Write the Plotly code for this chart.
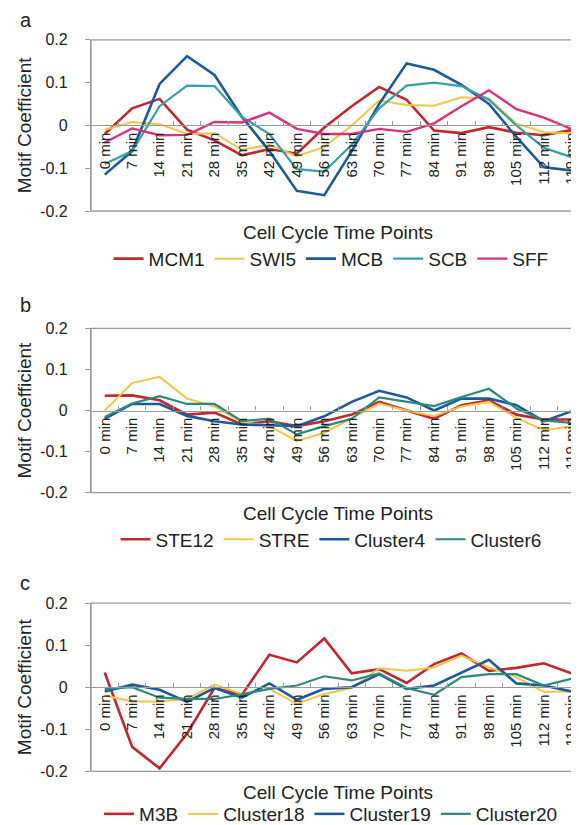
import plotly.graph_objects as go

time_points = ["0 min", "7 min", "14 min", "21 min", "28 min", "35 min", "42 min", "49 min",
               "56 min", "63 min", "70 min", "77 min", "84 min", "91 min", "98 min",
               "105 min", "112 min", "119 min"]

# Panel a
mcm1 = [-0.02, 0.04, 0.062, -0.01, -0.035, -0.07, -0.055, -0.066, -0.005, 0.045, 0.09, 0.06,
        -0.012, -0.018, -0.004, -0.017, -0.023, -0.011]
swi5 = [-0.01, 0.008, 0.003, -0.02, -0.018, -0.057, -0.045, -0.072, -0.05, 0.0, 0.058, 0.048,
        0.046, 0.066, 0.063, 0.004, -0.016, -0.018]
mcb = [-0.115, -0.06, 0.097, 0.162, 0.118, 0.02, -0.06, -0.153, -0.163, -0.06, 0.05, 0.145,
       0.13, 0.095, 0.05, -0.027, -0.098, -0.105]
scb = [-0.09, -0.06, 0.045, 0.093, 0.092, 0.02, -0.02, -0.102, -0.108, -0.045, 0.04, 0.093,
       0.1, 0.092, 0.06, 0.0, -0.052, -0.074]
sff = [-0.04, -0.007, -0.023, -0.022, 0.008, 0.007, 0.03, -0.008, -0.02, -0.02, -0.008, -0.015,
       0.005, 0.045, 0.082, 0.038, 0.018, -0.008]

# Panel b
ste12 = [0.036, 0.037, 0.025, -0.01, -0.005, -0.034, -0.026, -0.038, -0.026, -0.01, 0.021, 0.0,
         -0.02, 0.013, 0.025, -0.01, -0.022, -0.022]
stre = [0.0, 0.067, 0.082, 0.029, 0.01, -0.028, -0.038, -0.074, -0.054, -0.018, 0.017, 0.0,
        -0.014, 0.01, 0.021, -0.018, -0.048, -0.038]
cluster4 = [-0.02, 0.016, 0.016, -0.013, -0.026, -0.034, -0.036, -0.038, -0.014, 0.021, 0.048,
            0.032, 0.0, 0.029, 0.029, 0.013, -0.026, -0.002]
cluster6 = [-0.016, 0.017, 0.035, 0.016, 0.016, -0.026, -0.02, -0.058, -0.038, -0.02, 0.032,
            0.021, 0.011, 0.033, 0.053, 0.005, -0.024, -0.03]

# Panel c
m3b = [0.035, -0.142, -0.193, -0.11, -0.002, -0.018, 0.077, 0.059, 0.116, 0.033, 0.043, 0.01,
       0.055, 0.08, 0.039, 0.046, 0.057, 0.033]
cluster18 = [-0.02, -0.034, -0.034, -0.028, 0.006, -0.016, -0.004, -0.04, -0.016, -0.002, 0.045,
             0.039, 0.047, 0.075, 0.047, 0.024, -0.011, -0.01]
cluster19 = [-0.01, 0.006, -0.006, -0.035, -0.002, -0.025, 0.009, -0.03, -0.004, 0.0, 0.031,
             -0.004, 0.004, 0.035, 0.065, 0.009, 0.004, -0.01]
cluster20 = [-0.004, 0.0, -0.025, -0.028, -0.028, -0.017, -0.004, 0.004, 0.026, 0.016, 0.033,
             -0.002, -0.018, 0.024, 0.031, 0.031, 0.004, 0.02]

RED = "#c1272d"
YELLOW = "#f3c545"
BLUE = "#1d5a9b"
CYAN = "#35a0aa"
TEAL = "#2a8a7c"
MAGENTA = "#d8337a"

panels = [
    [("MCM1", mcm1, RED, 2.6), ("SWI5", swi5, YELLOW, 2.0), ("MCB", mcb, BLUE, 2.6),
     ("SCB", scb, CYAN, 2.2), ("SFF", sff, MAGENTA, 2.4)],
    [("STE12", ste12, RED, 2.6), ("STRE", stre, YELLOW, 2.0), ("Cluster4", cluster4, BLUE, 2.6),
     ("Cluster6", cluster6, TEAL, 2.2)],
    [("M3B", m3b, RED, 2.6), ("Cluster18", cluster18, YELLOW, 2.0), ("Cluster19", cluster19, BLUE, 2.6),
     ("Cluster20", cluster20, TEAL, 2.2)],
]

W, H = 579, 825
xdom = [83 / W, 577 / W]
# (top px of 0.2, bottom px of -0.2), legend y px, letter, letter y px
panel_px = [(32, 204, 252, "a", 12), (322, 487, 534, "b", 298), (598, 767, 810, "c", 578)]

FONT = "Liberation Sans, Arial, sans-serif"
GRAY = "#9a9a9a"
TXT = "#222"

fig = go.Figure()
layout = dict(width=W, height=H, margin=dict(l=0, r=0, t=0, b=0),
              paper_bgcolor="white", plot_bgcolor="white",
              font=dict(family=FONT, color=TXT), shapes=[], annotations=[])

for i, (series, (top, bot, legy, letter, lety)) in enumerate(zip(panels, panel_px)):
    n = "" if i == 0 else str(i + 1)
    lg = "legend" + n
    for name, vals, col, lw in series:
        fig.add_trace(go.Scatter(x=time_points, y=vals, name=name, mode="lines",
                                 line=dict(color=col, width=lw),
                                 xaxis="x" + n, yaxis="y" + n, legend=lg))
    ydom = [1 - bot / H, 1 - top / H]
    layout["xaxis" + n] = dict(
        domain=xdom, anchor="free", position=(ydom[0] + ydom[1]) / 2,
        type="category", categoryorder="array", categoryarray=time_points,
        range=[-0.5, len(time_points) - 0.5],
        showline=True, linecolor=GRAY, linewidth=1.3,
        ticks="inside", ticklen=4, tickcolor=GRAY, tickson="boundaries",
        tickangle=-90, tickfont=dict(size=15, family=FONT, color=TXT),
        showgrid=False, zeroline=False, automargin=False,
    )
    layout["yaxis" + n] = dict(
        domain=ydom, anchor="x" + n, range=[-0.2, 0.2],
        tickvals=[-0.2, -0.1, 0, 0.1, 0.2], ticktext=["-0.2", "-0.1", "0", "0.1", "0.2"],
        showline=True, linecolor=GRAY, linewidth=1.3,
        ticks="outside", ticklen=5, tickcolor=GRAY, ticklabelstandoff=14,
        tickfont=dict(size=16, family=FONT, color=TXT),
        showgrid=False, zeroline=False,
        title=dict(text="Motif Coefficient", font=dict(size=19, family=FONT, color=TXT),
                   standoff=3),
        automargin=False,
    )
    layout[lg] = dict(orientation="h", x=0.558, xanchor="center", y=1 - legy / H,
                      yanchor="middle", font=dict(size=19, family=FONT, color=TXT),
                      bgcolor="rgba(0,0,0,0)", itemwidth=30, tracegroupgap=0)
    # plot-area border
    layout["shapes"].append(dict(type="rect", xref="x" + n + " domain", yref="y" + n + " domain",
                                 x0=0, x1=1, y0=0, y1=1, line=dict(color=GRAY, width=1.3),
                                 layer="below"))
    # x-axis title, placed under the plot-area border
    layout["annotations"].append(dict(text="Cell Cycle Time Points", xref="x" + n + " domain",
                                      yref="y" + n + " domain", x=0.5, y=0, yshift=-21,
                                      xanchor="center", yanchor="middle", showarrow=False,
                                      font=dict(size=19, family=FONT, color=TXT)))
    layout["annotations"].append(dict(text=letter, xref="paper", yref="paper", x=10 / W,
                                      y=1 - lety / H, xanchor="left", yanchor="middle",
                                      showarrow=False, font=dict(size=20, family=FONT, color=TXT)))

fig.update_layout(**layout)
fig.write_html("out.html")
